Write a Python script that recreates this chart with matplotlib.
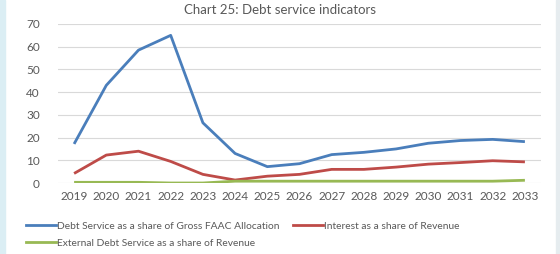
import numpy as np
import matplotlib.pyplot as plt
from matplotlib.lines import Line2D

years = [str(y) for y in range(2019, 2034)]
debt_service_faac = [17.2, 43.0, 58.5, 65.0, 26.5, 13.0, 7.2, 8.5, 12.5, 13.5, 15.0, 17.5, 18.7, 19.2, 18.2]
interest_revenue = [4.2, 12.3, 14.0, 9.5, 3.8, 1.3, 3.0, 3.8, 6.0, 6.0, 7.0, 8.3, 9.0, 9.8, 9.3]
external_revenue = [0.3, 0.3, 0.3, 0.0, 0.0, 0.8, 0.8, 0.8, 0.8, 0.8, 0.8, 0.8, 0.8, 0.8, 1.2]

LABELS = ["Debt Service as a share of Gross FAAC Allocation",
          "Interest as a share of Revenue",
          "External Debt Service as a share of Revenue"]
COLORS = ["#4a7ebb", "#be4b48", "#98b954"]
TEXT = "#595959"

plt.rcParams['font.family'] = ['Lato', 'DejaVu Sans']

fig = plt.figure(figsize=(5.6, 2.54), dpi=100)
fig.patches.append(plt.Rectangle((0, 0), 5/560, 1, transform=fig.transFigure,
                                 color="#dbeef4", zorder=0))
fig.patches.append(plt.Rectangle((556/560, 0), 4/560, 1, transform=fig.transFigure,
                                 color="#e6ecef", zorder=0))

ax = fig.add_axes([58/560, 1-183/254, (541-58)/560, (183-24)/254])
x = np.arange(len(years))
for vals, c in zip([debt_service_faac, interest_revenue, external_revenue], COLORS):
    ax.plot(x, vals, color=c, lw=2.0, solid_joinstyle="round", solid_capstyle="butt", zorder=3)

ax.set_xlim(-0.5, len(years)-0.5)
ax.set_ylim(0, 70)
ax.set_yticks(range(0, 71, 10))
ax.set_xticks(x)
ax.set_xticklabels(years)
ax.grid(axis="y", color="#d9d9d9", lw=0.8)
ax.set_axisbelow(True)
for s in ax.spines.values():
    s.set_visible(False)
ax.tick_params(length=0, labelsize=8.5, colors=TEXT, pad=6)
ax.tick_params(axis="y", pad=13)

fig.text(0.5, 1-10/254, "Chart 25: Debt service indicators", ha="center", va="center",
         fontsize=9.5, color=TEXT)

# legend entries placed one by one, like the Excel layout
legend_pos = [(26, 226), (293, 226), (26, 243)]
for lab, c, (px, py) in zip(LABELS, COLORS, legend_pos):
    fig.legend([Line2D([], [], color=c, lw=2.0)], [lab], loc="center left",
               bbox_to_anchor=(px/560, 1-py/254), frameon=False, fontsize=7.4,
               labelcolor=TEXT, handlelength=2.9, handletextpad=0.15,
               borderpad=0, borderaxespad=0)

fig.savefig("out.png", dpi=100)
